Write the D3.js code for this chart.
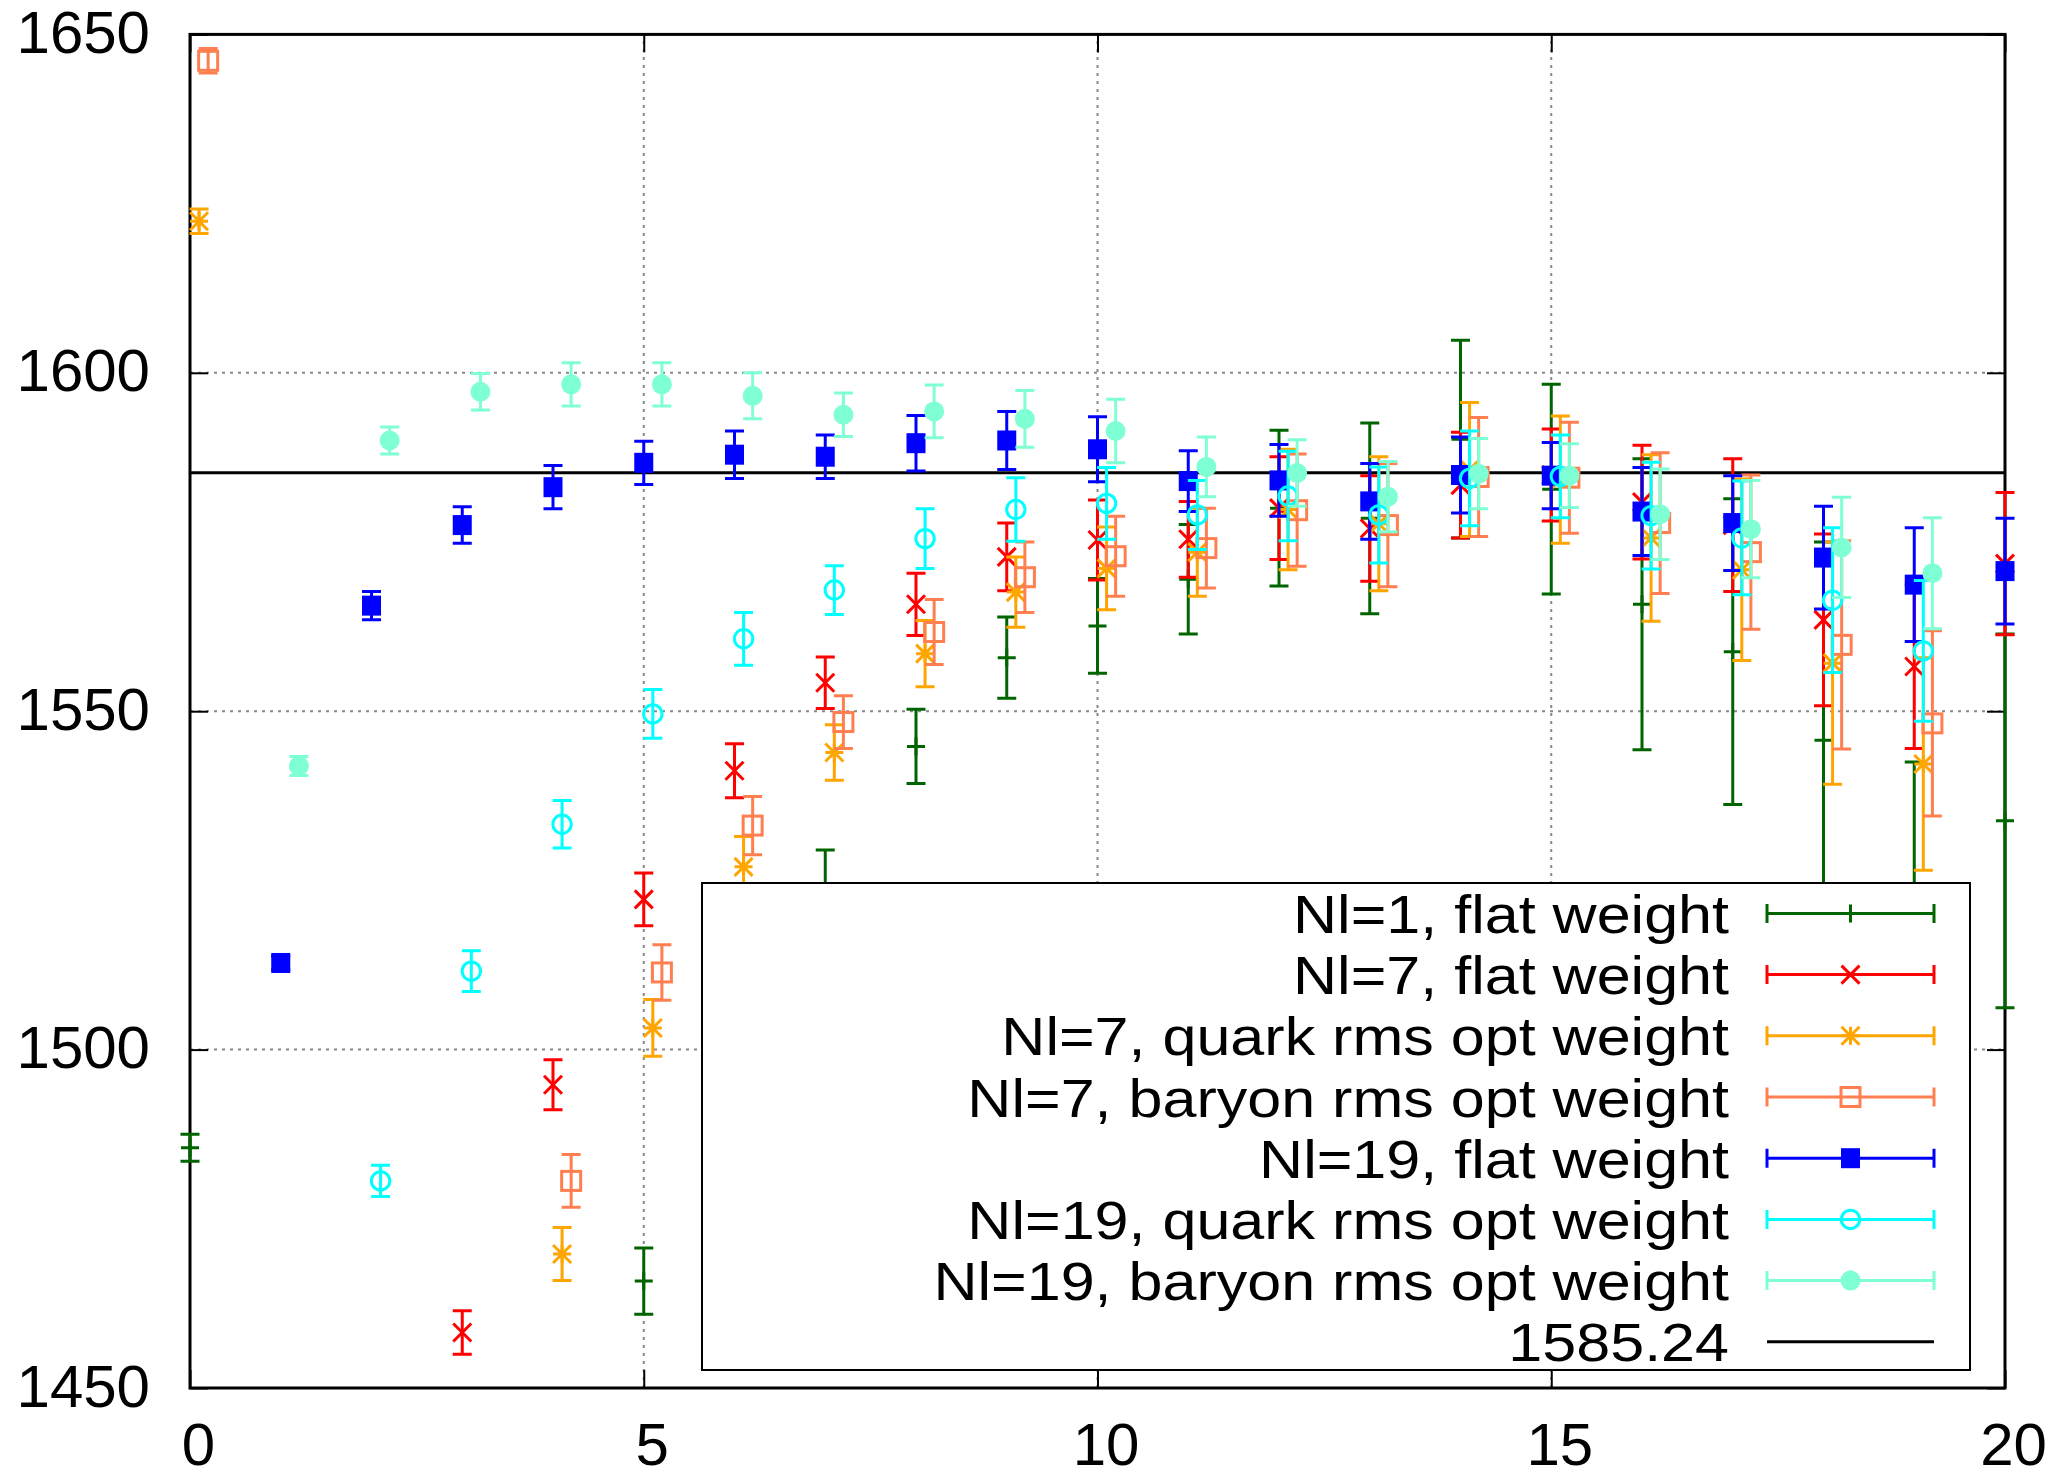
<!DOCTYPE html>
<html><head><meta charset="utf-8">
<script src="https://cdn.jsdelivr.net/npm/d3@7"></script>
<style>body{margin:0;background:#fff}</style>
</head><body><svg id="c" width="2066" height="1478"></svg>
<script>
// ---------------- data ----------------
const xIndex = [0,1,2,3,4,5,6,7,8,9,10,11,12,13,14,15,16,17,18,19,20];
const xTicks = [0,5,10,15,20];
const yTicks = [1450,1500,1550,1600,1650];
const refValue = 1585.24;

const seriesNames = [
  "Nl=1, flat weight",
  "Nl=7, flat weight",
  "Nl=7, quark rms opt weight",
  "Nl=7, baryon rms opt weight",
  "Nl=19, flat weight",
  "Nl=19, quark rms opt weight",
  "Nl=19, baryon rms opt weight"
];

const nl1FlatVal = [1485.5,null,null,null,null,1465.8,1500,1522,1544.8,1557.9,1562.6,1569.5,1580.0,1578.5,1590.2,1582.8,1565.8,1558.8,1545.7,1512,1533.8];
const nl1FlatErr = [2.0,null,null,null,null,4.9,6,7.5,5.5,6.0,7.0,8.1,11.5,14.1,14.6,15.5,21.5,22.6,29.3,30.5,27.6];

const nl7FlatVal = [null,null,null,1458.2,1494.8,1522.2,1541.2,1554.2,1565.8,1572.8,1575.3,1575.4,1580.0,1577.0,1583.4,1584.9,1580.9,1577.5,1563.5,1556.6,1571.8];
const nl7FlatErr = [null,null,null,3.2,3.7,3.9,4.0,3.8,4.6,5.0,5.9,5.6,7.6,7.8,7.8,6.8,8.4,9.8,12.7,12.1,10.5];

const nl7QuarkVal = [1622.4,null,null,null,1469.8,1503.2,1527.0,1543.9,1558.5,1567.6,1571.1,1573.5,1579.8,1577.7,1585.7,1584.2,1575.6,1570.9,1557.1,1542.2,null];
const nl7QuarkErr = [1.8,null,null,null,3.9,4.2,4.5,4.1,4.9,5.2,6.1,6.5,8.9,9.9,9.9,9.4,12.3,13.4,17.9,15.7,null];

const nl7BaryonVal = [1646.1,null,null,null,1480.6,1511.4,1533.1,1548.4,1561.7,1569.8,1572.9,1574.1,1579.7,1577.5,1584.6,1584.5,1577.8,1573.5,1559.8,1548.2,null];
const nl7BaryonErr = [1.8,null,null,null,3.9,4.1,4.3,3.9,4.8,5.2,5.9,5.9,8.3,9.1,8.8,8.2,10.4,11.4,15.4,13.7,null];

const nl19FlatVal = [null,1512.8,1565.6,1577.5,1583.1,1586.7,1587.9,1587.6,1589.6,1590.0,1588.7,1584.0,1584.1,1581.0,1584.9,1584.8,1579.5,1577.8,1572.7,1568.7,1570.7];
const nl19FlatErr = [null,1.0,2.1,2.7,3.2,3.2,3.5,3.2,4.1,4.3,4.8,4.5,5.3,5.6,5.6,4.9,6.5,7.0,7.6,8.4,7.8];

const nl19QuarkVal = [null,null,1480.6,1511.6,1533.3,1549.6,1560.7,1567.9,1575.5,1579.8,1580.7,1579.0,1581.8,1579.0,1584.4,1584.7,1578.9,1575.6,1566.4,1558.9,null];
const nl19QuarkErr = [null,null,2.3,3.0,3.5,3.6,3.9,3.6,4.4,4.7,5.3,5.1,6.6,7.1,7.0,6.1,7.9,8.4,10.7,10.4,null];

const nl19BaryonVal = [null,1541.9,1590.0,1597.2,1598.3,1598.3,1596.6,1593.8,1594.3,1593.2,1591.4,1586.1,1585.2,1581.7,1585.1,1584.8,1579.1,1576.9,1574.2,1570.4,null];
const nl19BaryonErr = [null,1.4,2.0,2.7,3.2,3.2,3.4,3.2,3.9,4.2,4.7,4.4,4.9,5.2,5.2,4.7,6.7,7.2,7.4,8.2,null];

// ---------------- styles ----------------
const styles = [
  {color:"#006400", marker:"plus",    offset:0},
  {color:"#ff0000", marker:"cross",   offset:0},
  {color:"#ffa500", marker:"star",    offset:0.1},
  {color:"#ff7f50", marker:"box",     offset:0.2},
  {color:"#0000ff", marker:"boxf",    offset:0},
  {color:"#00ffff", marker:"circle",  offset:0.1},
  {color:"#7fffd4", marker:"circlef", offset:0.2}
];
const vals = [nl1FlatVal,nl7FlatVal,nl7QuarkVal,nl7BaryonVal,nl19FlatVal,nl19QuarkVal,nl19BaryonVal];
const errs = [nl1FlatErr,nl7FlatErr,nl7QuarkErr,nl7BaryonErr,nl19FlatErr,nl19QuarkErr,nl19BaryonErr];
const series = seriesNames.map((n,i)=>Object.assign({name:n,val:vals[i],err:errs[i]},styles[i]));

const FONT = '"Liberation Sans", Arial, Helvetica, sans-serif';
const svg = d3.select('#c');
const x = d3.scaleLinear().domain([0,20]).range([190,2005]);
const y = d3.scaleLinear().domain([1450,1650]).range([1388,34.4]);

// grid
const grid = svg.append('g').attr('stroke','#888').attr('stroke-width',2).attr('stroke-dasharray','3,5');
grid.selectAll('line.gx').data(xTicks.filter(d=>d>0&&d<20)).join('line')
  .attr('x1',d=>x(d)).attr('x2',d=>x(d)).attr('y1',y(1450)).attr('y2',y(1650));
grid.selectAll('line.gy').data(yTicks.filter(d=>d>1450&&d<1650)).join('line')
  .attr('y1',d=>y(d)).attr('y2',d=>y(d)).attr('x1',x(0)).attr('x2',x(20));

// axes (ticks inward, mirrored)
function styleAxis(g, showText){
  g.select('.domain').remove();
  g.selectAll('.tick line').attr('stroke','#000').attr('stroke-width',2);
  g.selectAll('.tick text').attr('font-size',60).attr('font-family',FONT).attr('fill','#000');
  if(!showText) g.selectAll('.tick text').remove();
}
svg.append('g').attr('transform',`translate(${x(0)},0)`)
  .call(d3.axisLeft(y).tickValues(yTicks).tickSize(-18).tickPadding(40).tickFormat(d3.format('d')))
  .call(g=>styleAxis(g,true))
  .call(g=>g.selectAll('.tick text').attr('dy','0.30em'));
svg.append('g').attr('transform',`translate(${x(20)},0)`)
  .call(d3.axisRight(y).tickValues(yTicks).tickSize(-18))
  .call(g=>styleAxis(g,false));
svg.append('g').attr('transform',`translate(0,${y(1450)})`)
  .call(d3.axisBottom(x).tickValues(xTicks).tickSize(-18).tickPadding(34).tickFormat(d3.format('d')))
  .call(g=>styleAxis(g,true))
  .call(g=>g.selectAll('.tick text').attr('dx',8));
svg.append('g').attr('transform',`translate(0,${y(1650)})`)
  .call(d3.axisTop(x).tickValues(xTicks).tickSize(-18))
  .call(g=>styleAxis(g,false));

// border
svg.append('rect').attr('x',x(0)).attr('y',y(1650)).attr('width',x(20)-x(0)).attr('height',y(1450)-y(1650))
  .attr('fill','none').attr('stroke','#000').attr('stroke-width',3);

// reference line
svg.append('line').attr('x1',x(0)).attr('x2',x(20)).attr('y1',y(refValue)).attr('y2',y(refValue))
  .attr('stroke','#000').attr('stroke-width',3);

// markers
function drawMarker(g, type, cx, cy, color){
  const h = 9;
  if(type==='plus'){
    g.append('path').attr('d',`M${cx-h},${cy}H${cx+h}M${cx},${cy-h}V${cy+h}`).attr('fill','none');
  } else if(type==='cross'){
    g.append('path').attr('d',`M${cx-h},${cy-h}L${cx+h},${cy+h}M${cx-h},${cy+h}L${cx+h},${cy-h}`).attr('fill','none');
  } else if(type==='star'){
    g.append('path').attr('d',`M${cx-h},${cy}H${cx+h}M${cx},${cy-h}V${cy+h}M${cx-h},${cy-h}L${cx+h},${cy+h}M${cx-h},${cy+h}L${cx+h},${cy-h}`).attr('fill','none');
  } else if(type==='box'){
    g.append('rect').attr('x',cx-9.5).attr('y',cy-9.5).attr('width',19).attr('height',19).attr('fill','none');
  } else if(type==='boxf'){
    g.append('rect').attr('x',cx-9.5).attr('y',cy-10).attr('width',19).attr('height',20).attr('fill',color).attr('stroke','none');
  } else if(type==='circle'){
    g.append('circle').attr('cx',cx).attr('cy',cy).attr('r',9.2).attr('fill','none');
  } else if(type==='circlef'){
    g.append('circle').attr('cx',cx).attr('cy',cy).attr('r',10).attr('fill',color).attr('stroke','none');
  }
}
function drawErr(g, px, yTop, yBot, capHalf){
  g.append('path').attr('fill','none')
    .attr('d',`M${px},${yTop}V${yBot}M${px-capHalf},${yTop}H${px+capHalf}M${px-capHalf},${yBot}H${px+capHalf}`);
}

series.forEach(s=>{
  const pts = xIndex.map((xi,i)=>({x:xi+s.offset, v:s.val[i], e:s.err[i]}))
    .filter(p=>p.v!=null && p.x>=0 && p.x<=20);
  const sg = svg.append('g').attr('stroke',s.color).attr('stroke-width',3);
  pts.forEach(p=>{
    drawErr(sg, x(p.x), y(p.v+p.e), y(p.v-p.e), 9.5);
    drawMarker(sg, s.marker, x(p.x), y(p.v), s.color);
  });
});

// legend (opaque)
const L = {x0:702, y0:883, x1:1970, y1:1370, textX:1729, row0:913.4, dy:61.2, lx0:1767, lx1:1934};
const lg = svg.append('g');
lg.append('rect').attr('x',L.x0).attr('y',L.y0).attr('width',L.x1-L.x0).attr('height',L.y1-L.y0)
  .attr('fill','#fff').attr('stroke','#000').attr('stroke-width',2);
const entries = series.concat([{name:String(refValue), color:'#000', marker:null}]);
entries.forEach((s,i)=>{
  const ry = L.row0 + i*L.dy;
  lg.append('text').attr('transform',`translate(${L.textX},${ry}) scale(1.12,1)`)
    .attr('x',0).attr('y',0).attr('dy','0.36em').attr('text-anchor','end')
    .attr('font-family',FONT).attr('font-size',54.5).attr('fill','#000').text(s.name);
  const eg = lg.append('g').attr('stroke',s.color).attr('stroke-width',3);
  if(s.marker){
    eg.append('path').attr('fill','none')
      .attr('d',`M${L.lx0},${ry}H${L.lx1}M${L.lx0},${ry-9.5}V${ry+9.5}M${L.lx1},${ry-9.5}V${ry+9.5}`);
    drawMarker(eg, s.marker, (L.lx0+L.lx1)/2, ry, s.color);
  } else {
    eg.append('line').attr('x1',L.lx0).attr('x2',L.lx1).attr('y1',ry).attr('y2',ry).attr('stroke-width',3);
  }
});
</script>
</body></html>
